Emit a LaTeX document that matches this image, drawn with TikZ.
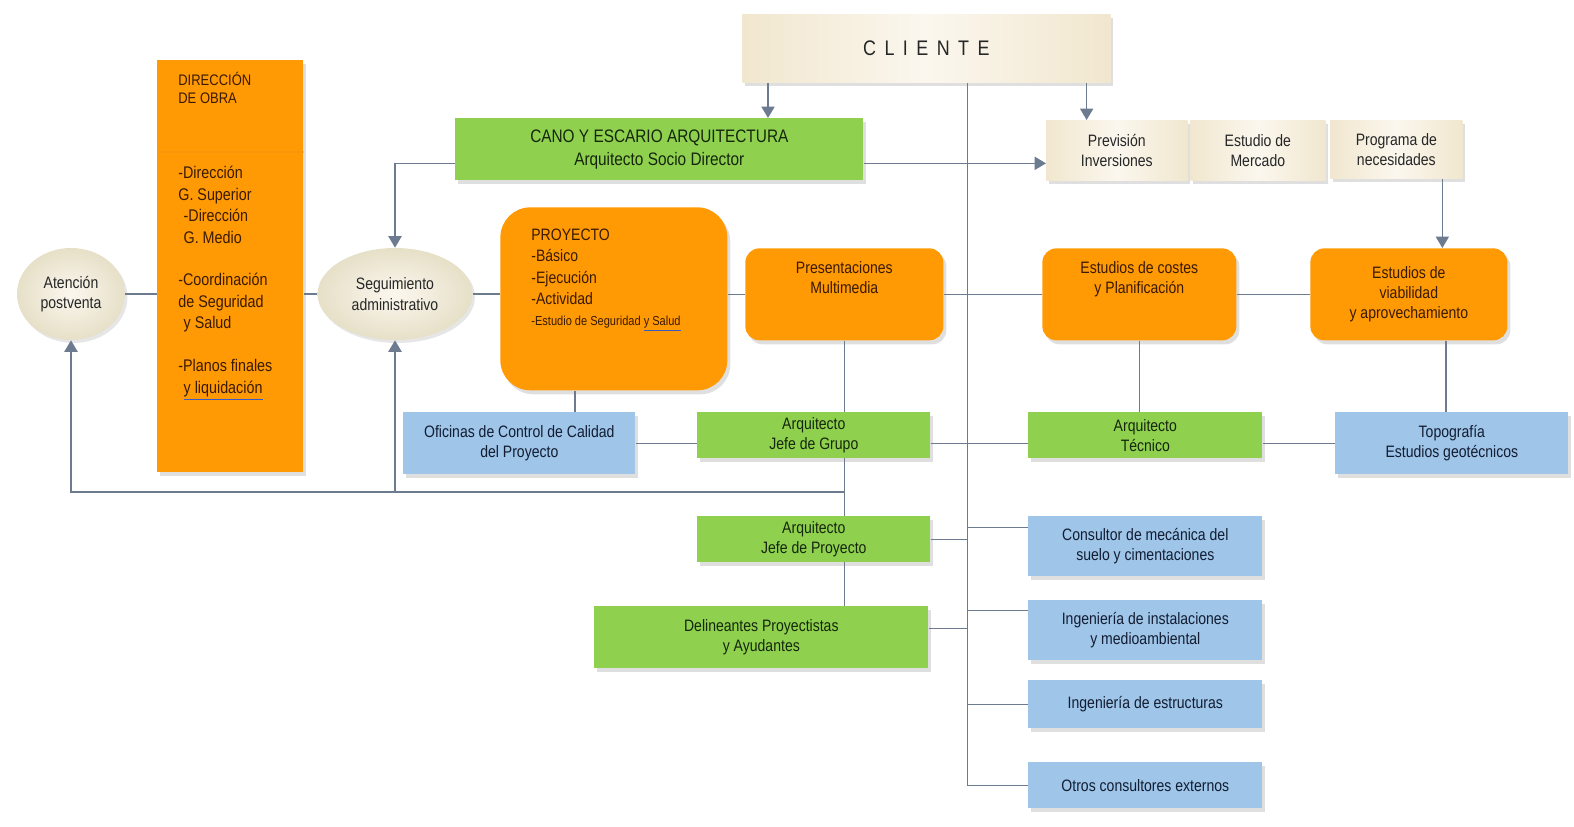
\documentclass[tikz,border=0pt]{standalone}
\usepackage{fontspec}
\setmainfont{Liberation Sans}[FakeStretch=0.85]
\usetikzlibrary{shapes.geometric, arrows.meta, positioning, calc, shadows, backgrounds}

\definecolor{naranja}{HTML}{FF9A05}
\definecolor{verde}{HTML}{8FD14F}
\definecolor{azul}{HTML}{9FC5E8}
\definecolor{crema}{HTML}{F1E7CF}
\definecolor{cremaclaro}{HTML}{FBF7EE}
\definecolor{cremaborde}{HTML}{E6E0C8}
\definecolor{linea}{HTML}{6C7B90}
\definecolor{tmarron}{HTML}{3A1A00}
\definecolor{tverde}{HTML}{15260C}
\definecolor{tazul}{HTML}{121D33}
\definecolor{subrayado}{HTML}{3A5BC7}

\newcommand{\txtnorm}{\fontsize{9.4}{11.5}\selectfont}

\begin{document}
\begin{tikzpicture}[x=0.02cm, y=-0.02cm,
    caja/.style={rectangle, anchor=north west, inner sep=0pt, align=center, font=\txtnorm,
        drop shadow={shadow xshift=0.06cm, shadow yshift=-0.08cm, opacity=0.25}},
    naranjabox/.style={caja, fill=naranja, text=tmarron, rounded corners=0.28cm},
    verdebox/.style={caja, fill=verde, text=tverde},
    azulbox/.style={caja, fill=azul, text=tazul},
    cremabox/.style={caja, left color=crema, right color=crema, middle color=cremaclaro, text=black!85},
    burbuja/.style={ellipse, inner sep=0pt, align=center, font=\txtnorm, text=black!85,
        inner color=cremaclaro, outer color=cremaborde,
        drop shadow={shadow xshift=0.05cm, shadow yshift=-0.06cm, opacity=0.2}},
    textoarriba/.style={label={[anchor=north, inner sep=0pt, yshift=-0.26cm, align=center,
        font=\txtnorm, text=tmarron]north:#1}},
    enlace/.style={draw=linea, line width=0.85pt},
    flecha/.style={enlace, -{Triangle[width=7.5pt, length=6.5pt]}}
]
    \useasboundingbox (0,0) rectangle (1574,827);

    % Cliente y direccion del estudio
    \node[cremabox, minimum width=7.36cm, minimum height=1.36cm,
          font=\fontsize{12}{14}\selectfont\addfontfeatures{LetterSpace=40}] (cliente) at (742,14) {CLIENTE};
    \node[verdebox, minimum width=8.16cm, minimum height=1.24cm,
          font=\fontsize{10.3}{13}\selectfont] (cano) at (455,118) {CANO Y ESCARIO ARQUITECTURA\\Arquitecto Socio Director};

    % Estudios previos
    \node[cremabox, minimum width=2.82cm, minimum height=1.2cm] (prevision) at (1046,120) {Previsión\\Inversiones};
    \node[cremabox, minimum width=2.7cm, minimum height=1.2cm] (mercado) at (1190,120) {Estudio de\\Mercado};
    \node[cremabox, minimum width=2.64cm, minimum height=1.16cm] (programa) at (1330,120) {Programa de\\necesidades};

    % Fila central
    \node[burbuja, minimum width=2.16cm, minimum height=1.84cm] (atencion) at (71,294) {Atención\\postventa};
    \node[caja, fill=naranja, minimum width=2.92cm, minimum height=8.24cm] (direccion) at (157,60) {};
    \draw[naranja!75!brown, line width=0.6pt, opacity=0.4]
        ($(direccion.north west)+(0,92)$) -- ($(direccion.north east)+(0,92)$);
    \node[anchor=north west, inner sep=0pt, align=left, text=tmarron,
          font=\fontsize{8.7}{10.2}\selectfont] (direccionTit) at (178,72) {DIRECCIÓN\\DE OBRA};
    \node[anchor=north west, inner sep=0pt, align=left, text=tmarron,
          font=\fontsize{9.6}{12.2}\selectfont] (direccionTxt) at (178,166)
        {-Dirección\\G. Superior\\\hspace{3pt}-Dirección\\\hspace{3pt}G. Medio\\[12.2pt]
         -Coordinación\\de Seguridad\\\hspace{3pt}y Salud\\[12.2pt]
         -Planos finales\\\hspace{3pt}{\color{subrayado}\underline{\textcolor{tmarron}{y liquidación}}}};
    \node[burbuja, minimum width=3.1cm, minimum height=1.84cm] (seguimiento) at (395,294) {Seguimiento\\administrativo};
    \node[naranjabox, rounded corners=0.6cm, minimum width=4.54cm, minimum height=3.66cm] (proyecto) at (500,207) {};
    \node[anchor=north west, inner sep=0pt, align=left, text=tmarron,
          font=\fontsize{9.4}{12}\selectfont] (proyectoTxt) at (531,229)
        {PROYECTO\\-Básico\\-Ejecución\\-Actividad\\
         {\fontsize{7.4}{8}\selectfont -Estudio de Seguridad {\color{subrayado}\underline{\textcolor{tmarron}{y Salud}}}}};
    \node[naranjabox, minimum width=3.96cm, minimum height=1.84cm,
          textoarriba={Presentaciones\\Multimedia}] (presentaciones) at (745,248) {};
    \node[naranjabox, minimum width=3.88cm, minimum height=1.84cm,
          textoarriba={Estudios de costes\\y Planificación}] (costes) at (1042,248) {};
    \node[naranjabox, minimum width=3.94cm, minimum height=1.84cm] (viabilidad) at (1310,248) {Estudios de\\viabilidad\\y aprovechamiento};

    % Equipo
    \node[azulbox, minimum width=4.64cm, minimum height=1.24cm] (oficinas) at (403,412) {Oficinas de Control de Calidad\\del Proyecto};
    \node[verdebox, minimum width=4.66cm, minimum height=0.92cm] (jefegrupo) at (697,412) {Arquitecto\\Jefe de Grupo};
    \node[verdebox, minimum width=4.68cm, minimum height=0.92cm] (tecnico) at (1028,412) {Arquitecto\\Técnico};
    \node[azulbox, minimum width=4.66cm, minimum height=1.24cm] (topografia) at (1335,412) {Topografía\\Estudios geotécnicos};
    \node[verdebox, minimum width=4.66cm, minimum height=0.92cm] (jefeproyecto) at (697,516) {Arquitecto\\Jefe de Proyecto};
    \node[verdebox, minimum width=6.68cm, minimum height=1.24cm] (delineantes) at (594,606) {Delineantes Proyectistas\\y Ayudantes};

    % Consultores externos
    \node[azulbox, minimum width=4.68cm, minimum height=1.2cm] (consultor) at (1028,516) {Consultor de mecánica del\\suelo y cimentaciones};
    \node[azulbox, minimum width=4.68cm, minimum height=1.2cm] (instalaciones) at (1028,600) {Ingeniería de instalaciones\\y medioambiental};
    \node[azulbox, minimum width=4.68cm, minimum height=0.96cm] (estructuras) at (1028,680) {Ingeniería de estructuras};
    \node[azulbox, minimum width=4.68cm, minimum height=0.92cm] (otros) at (1028,762) {Otros consultores externos};

    \begin{scope}[on background layer]
        % bajadas del cliente
        \coordinate (bajaA) at ($(cliente.south west)+(26,0)$);
        \coordinate (bajaB) at ($(cliente.south east)+(-24,0)$);
        \coordinate (tronco) at ($(cliente.south)+(41,0)$);
        \draw[flecha] (bajaA) -- (bajaA |- cano.north);
        \draw[flecha] (bajaB) -- (bajaB |- prevision.north);
        \draw[enlace] (tronco) -- (tronco |- otros.west);

        % desde el estudio
        \coordinate (canoD) at ([yshift=-0.28cm]cano.east);
        \coordinate (canoI) at ([yshift=-0.28cm]cano.west);
        \draw[flecha] (canoD) -- (canoD -| prevision.west);
        \draw[flecha] (canoI) -| (seguimiento.north);
        \coordinate (progS) at ($(programa.south)+(46,0)$);
        \draw[flecha] (progS) -- (progS |- viabilidad.north);

        % fila central
        \draw[enlace] (atencion.east) -- (atencion.east -| direccion.west);
        \draw[enlace] (direccion.east |- seguimiento.west) -- (seguimiento.west);
        \draw[enlace] (seguimiento.east) -- (seguimiento.east -| proyecto.west);
        \draw[enlace] (proyecto.east |- presentaciones.west) -- (presentaciones.west);
        \draw[enlace] (presentaciones.east) -- (costes.west);
        \draw[enlace] (costes.east) -- (viabilidad.west);

        % verticales
        \coordinate (proyS) at ($(proyecto.south west)+(75,0)$);
        \coordinate (viabS) at ($(viabilidad.south)+(37,0)$);
        \draw[enlace] (proyS) -- (proyS |- oficinas.north);
        \draw[enlace] (presentaciones.south) -- (presentaciones.south |- delineantes.north);
        \draw[enlace] (costes.south) -- (costes.south |- tecnico.north);
        \draw[enlace] (viabS) -- (viabS |- topografia.north);

        % fila del equipo
        \draw[enlace] (oficinas.east) -- (oficinas.east -| jefegrupo.west);
        \draw[enlace] (jefegrupo.east |- oficinas.east) -- (tecnico.west |- oficinas.east);
        \draw[enlace] (tecnico.east |- topografia.west) -- (topografia.west);

        % retorno a postventa y seguimiento
        \coordinate (retorno) at (presentaciones.south |- 0,492);
        \draw[flecha] (retorno) -| (atencion.south);
        \draw[flecha] (retorno -| seguimiento.south) -- (seguimiento.south);

        % ramas del tronco
        \coordinate (delD) at ([yshift=0.18cm]delineantes.east);
        \coordinate (consI) at ([yshift=0.38cm]consultor.west);
        \coordinate (instI) at ([yshift=0.4cm]instalaciones.west);
        \draw[enlace] (jefeproyecto.east) -- (jefeproyecto.east -| tronco);
        \draw[enlace] (delD) -- (delD -| tronco);
        \draw[enlace] (consI -| tronco) -- (consI);
        \draw[enlace] (instI -| tronco) -- (instI);
        \draw[enlace] (tronco |- estructuras.west) -- (estructuras.west);
        \draw[enlace] (tronco |- otros.west) -- (otros.west);
    \end{scope}
\end{tikzpicture}
\end{document}
